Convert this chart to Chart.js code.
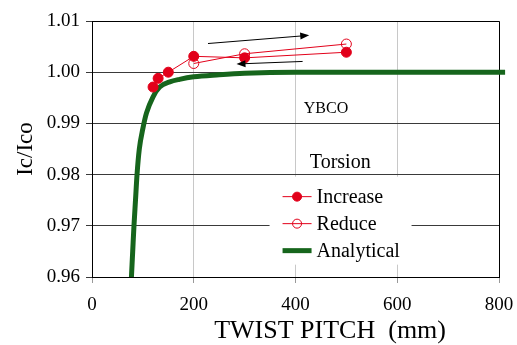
<!DOCTYPE html>
<html>
<head>
<meta charset="utf-8">
<script src="https://cdn.jsdelivr.net/npm/chart.js@4/dist/chart.umd.min.js"></script>
<style>
  html, body { margin: 0; padding: 0; background: #fff; }
  #wrap { width: 517px; height: 345px; }
</style>
</head>
<body>
<div id="wrap"><canvas id="chart" width="517" height="345"></canvas></div>
<script>
// data
const pitchIncrease = [120, 130, 150, 200, 300, 500];
const icIncrease = [0.9971, 0.9988, 1.0000, 1.0031, 1.0028, 1.0039];
const pitchReduce = [200, 300, 500];
const icReduce = [1.0017, 1.0036, 1.0055];
const pitchAnalytical = [77.5, 80, 82.5, 85.5, 88.5, 93, 100, 107, 120, 133, 153, 172, 200, 250, 300, 400, 600, 812];
const icAnalytical = [0.96, 0.965, 0.97, 0.975, 0.98, 0.985, 0.989, 0.992, 0.9952, 0.9971, 0.9981, 0.9986, 0.9991, 0.9995, 0.9998, 1.0, 1.0, 1.0];
const seriesLabels = ['Increase', 'Reduce', 'Analytical'];
const xTitle = 'TWIST PITCH  (mm)';

// notes and arrows, in data units
const notes = [
  { text: 'YBCO', x: 460, y: 0.9928, size: 16 },
  { text: 'Torsion', x: 488, y: 0.9823, size: 20 }
];
const arrows = [
  { from: [228, 1.0056], to: [427, 1.0072] },
  { from: [414, 1.0021], to: [284, 1.0016] }
];

const toXY = (xs, ys) => xs.map((x, i) => ({ x: x, y: ys[i] }));
const RED = '#e2001a';
const GREEN = '#16651c';
const SERIF = '"Liberation Serif", "Times New Roman", serif';

const framePlugin = {
  id: 'frame',
  beforeDatasetsDraw(chart) {
    const { ctx, chartArea: a } = chart;
    ctx.save();
    ctx.strokeStyle = '#000';
    ctx.lineWidth = 1;
    ctx.beginPath();
    ctx.moveTo(a.left, a.top + 0.5);
    ctx.lineTo(a.right + 0.5, a.top + 0.5);
    ctx.lineTo(a.right + 0.5, a.bottom);
    ctx.stroke();
    ctx.restore();
  },
  afterDatasetsDraw(chart) {
    const { ctx, scales } = chart;
    const xs = scales.x, ys = scales.y;
    ctx.save();
    // text notes
    ctx.fillStyle = '#000';
    ctx.textAlign = 'center';
    ctx.textBaseline = 'middle';
    notes.forEach(n => {
      ctx.font = n.size + 'px ' + SERIF;
      ctx.fillText(n.text, xs.getPixelForValue(n.x), ys.getPixelForValue(n.y));
    });
    // x axis title, set a little right of centre as in the figure
    ctx.font = '26px ' + SERIF;
    ctx.fillText(xTitle, xs.getPixelForValue(468), 331);
    // arrows
    ctx.strokeStyle = '#000';
    ctx.lineWidth = 1;
    arrows.forEach(ar => {
      const x1 = xs.getPixelForValue(ar.from[0]), y1 = ys.getPixelForValue(ar.from[1]);
      const x2 = xs.getPixelForValue(ar.to[0]), y2 = ys.getPixelForValue(ar.to[1]);
      const ang = Math.atan2(y2 - y1, x2 - x1);
      ctx.beginPath();
      ctx.moveTo(x1, y1);
      ctx.lineTo(x2 - 8 * Math.cos(ang), y2 - 8 * Math.sin(ang));
      ctx.stroke();
      ctx.beginPath();
      ctx.moveTo(x2, y2);
      ctx.lineTo(x2 - 9 * Math.cos(ang) + 3.5 * Math.sin(ang), y2 - 9 * Math.sin(ang) - 3.5 * Math.cos(ang));
      ctx.lineTo(x2 - 9 * Math.cos(ang) - 3.5 * Math.sin(ang), y2 - 9 * Math.sin(ang) + 3.5 * Math.cos(ang));
      ctx.closePath();
      ctx.fillStyle = '#000';
      ctx.fill();
    });
    // legend box
    const bx = xs.getPixelForValue(349), by = ys.getPixelForValue(0.9796);
    const bw = 142, bh = 88;
    ctx.fillStyle = '#fff';
    ctx.fillRect(bx, by, bw, bh);
    ctx.font = '20px ' + SERIF;
    ctx.textAlign = 'left';
    chart.data.datasets.forEach((ds, i) => {
      const cy = by + 20 + i * 27;
      const lx = bx + 13;
      ctx.strokeStyle = ds.borderColor;
      ctx.lineWidth = ds.borderWidth;
      ctx.beginPath();
      ctx.moveTo(lx, cy);
      ctx.lineTo(lx + 29, cy);
      ctx.stroke();
      if (ds.pointRadius > 0) {
        ctx.beginPath();
        ctx.arc(lx + 14.5, cy, 4.5, 0, Math.PI * 2);
        ctx.fillStyle = ds.pointBackgroundColor;
        ctx.fill();
        ctx.lineWidth = 1;
        ctx.strokeStyle = ds.pointBorderColor;
        ctx.stroke();
      }
      ctx.fillStyle = '#000';
      ctx.fillText(ds.label, lx + 34, cy + 1);
    });
    ctx.restore();
  }
};

new Chart(document.getElementById('chart'), {
  type: 'scatter',
  data: {
    datasets: [
      {
        label: seriesLabels[0],
        data: toXY(pitchIncrease, icIncrease),
        showLine: true,
        borderColor: RED,
        borderWidth: 1,
        pointRadius: 5,
        pointBackgroundColor: RED,
        pointBorderColor: RED,
        order: 2
      },
      {
        label: seriesLabels[1],
        data: toXY(pitchReduce, icReduce),
        showLine: true,
        borderColor: RED,
        borderWidth: 1,
        pointRadius: 5,
        pointBackgroundColor: 'rgba(255,255,255,0)',
        pointBorderColor: RED,
        pointBorderWidth: 1,
        order: 1
      },
      {
        label: seriesLabels[2],
        data: toXY(pitchAnalytical, icAnalytical),
        showLine: true,
        borderColor: GREEN,
        borderWidth: 5,
        pointRadius: 0,
        pointBackgroundColor: GREEN,
        pointBorderColor: GREEN,
        cubicInterpolationMode: 'monotone',
        clip: { left: 0, top: 0, right: 8, bottom: 0 },
        order: 3
      }
    ]
  },
  options: {
    responsive: false,
    animation: false,
    layout: { padding: { left: 0, right: 18, top: 21, bottom: 0 } },
    plugins: {
      legend: { display: false },
      tooltip: { enabled: false }
    },
    scales: {
      x: {
        type: 'linear',
        min: 0,
        max: 800,
        ticks: { stepSize: 200, color: '#000', font: { family: SERIF, size: 19 }, padding: 11 },
        grid: { color: '#c8c8c8', tickColor: '#999', tickLength: 6 },
        border: { color: '#000' },
        title: { display: false },
        afterFit(scale) { scale.height = 68; scale.paddingRight = 0; scale.paddingLeft = 0; }
      },
      y: {
        min: 0.96,
        max: 1.01,
        ticks: { stepSize: 0.01, color: '#000', font: { family: SERIF, size: 19 }, padding: 6, callback: v => v.toFixed(2) },
        grid: { color: '#3a3a3a', tickColor: '#3a3a3a', tickLength: 6 },
        border: { color: '#000' },
        title: { display: true, text: 'Ic/Ico', color: '#000', font: { family: SERIF, size: 23 }, padding: { top: 12, bottom: 0 } },
        afterFit(scale) { scale.width = 92; }
      }
    }
  },
  plugins: [framePlugin]
});
</script>
</body>
</html>
